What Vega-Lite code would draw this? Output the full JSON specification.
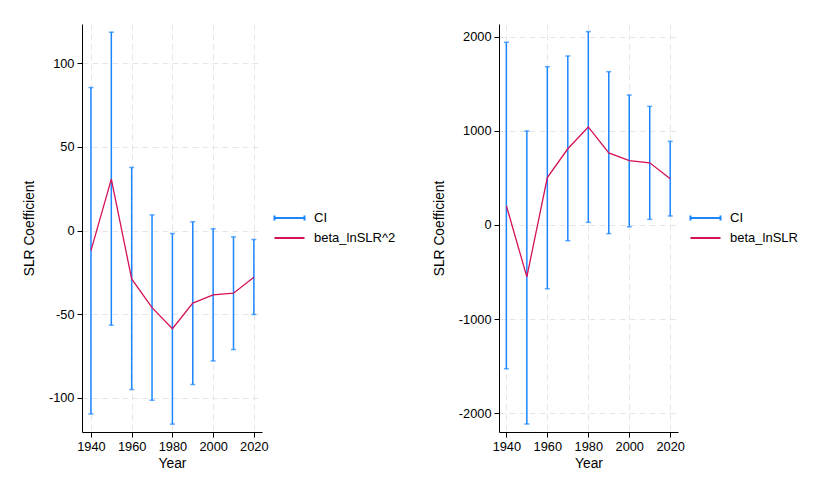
{
  "$schema": "https://vega.github.io/schema/vega-lite/v6.json",
  "background": "white",
  "padding": {"left": 22, "top": 24, "right": 5, "bottom": 5},
  "datasets": {
    "left": [
      {"year": 1940, "lo": -109.7, "hi": 85.5, "beta": -12.0},
      {"year": 1950, "lo": -56.6, "hi": 118.6, "beta": 30.7},
      {"year": 1960, "lo": -95.1, "hi": 37.7, "beta": -29.0},
      {"year": 1970, "lo": -101.5, "hi": 9.3, "beta": -46.1},
      {"year": 1980, "lo": -115.8, "hi": -1.8, "beta": -58.7},
      {"year": 1990, "lo": -92.1, "hi": 5.2, "beta": -43.4},
      {"year": 2000, "lo": -78.0, "hi": 1.0, "beta": -38.5},
      {"year": 2010, "lo": -71.2, "hi": -3.8, "beta": -37.5},
      {"year": 2020, "lo": -50.2, "hi": -5.4, "beta": -28.0}
    ],
    "right": [
      {"year": 1940, "lo": -1529, "hi": 1944, "beta": 205},
      {"year": 1950, "lo": -2117, "hi": 1000, "beta": -552},
      {"year": 1960, "lo": -678, "hi": 1684, "beta": 505},
      {"year": 1970, "lo": -167, "hi": 1798, "beta": 811},
      {"year": 1980, "lo": 28, "hi": 2057, "beta": 1043},
      {"year": 1990, "lo": -92, "hi": 1631, "beta": 767},
      {"year": 2000, "lo": -18, "hi": 1383, "beta": 684},
      {"year": 2010, "lo": 60, "hi": 1262, "beta": 662},
      {"year": 2020, "lo": 96, "hi": 890, "beta": 493}
    ]
  },
  "config": {
    "font": "Liberation Sans",
    "view": {"stroke": null},
    "axis": {
      "domainColor": "black",
      "tickColor": "black",
      "labelColor": "black",
      "titleColor": "black",
      "labelFontSize": 12.8,
      "titleFontSize": 13.8,
      "titleFontWeight": "normal",
      "gridColor": "#e6e6e6",
      "gridDash": [6, 4],
      "tickSize": 5,
      "labelPadding": 3
    },
    "legend": {
      "labelFontSize": 13,
      "labelColor": "black",
      "padding": 0,
      "symbolStrokeWidth": 2,
      "symbolSize": 225,
      "labelOffset": 16,
      "rowPadding": 4
    }
  },
  "resolve": {"scale": {"y": "independent", "color": "independent", "x": "independent"}},
  "spacing": 36,
  "hconcat": [
    {
      "width": 180,
      "height": 408,
      "data": {"name": "left"},
      "layer": [
        {
          "mark": {"type": "rule", "strokeWidth": 1.5},
          "encoding": {
            "x": {
              "field": "year", "type": "quantitative",
              "scale": {"domain": [1935.6, 2024], "nice": false, "zero": false},
              "axis": {
                "title": "Year",
                "values": [1940, 1950, 1960, 1970, 1980, 1990, 2000, 2010, 2020],
                "labelExpr": "datum.value % 20 == 0 ? toString(datum.value) : ''",
                "tickOpacity": {"condition": {"test": "datum.value % 20 != 0", "value": 0}, "value": 1},
                "labelFlush": false,
                "labelOverlap": false
              }
            },
            "y": {
              "field": "lo", "type": "quantitative",
              "scale": {"domain": [-120.5, 123.5], "nice": false},
              "axis": {
                "title": "SLR Coefficient",
                "values": [-100, -50, 0, 50, 100],
                "labelExpr": "toString(datum.value)",
                "titlePadding": 12
              }
            },
            "y2": {"field": "hi"},
            "color": {
              "datum": "CI", "type": "nominal",
              "scale": {"domain": ["CI", "beta_lnSLR^2"], "range": ["#1a85ff", "#d41159"]},
              "legend": {
                "title": null,
                "orient": "none",
                "legendX": 199,
                "legendY": 185.5,
                "encode": {
                  "symbols": {
                    "update": {
                      "shape": {"signal": "datum.value === 'CI' ? 'M-2,0H2M-2,-0.33V0.33M2,-0.33V0.33' : 'M-2,0H2'"}
                    }
                  }
                }
              }
            }
          }
        },
        {
          "mark": {"type": "tick", "orient": "horizontal", "size": 5, "thickness": 1.5, "color": "#1a85ff"},
          "encoding": {
            "x": {"field": "year", "type": "quantitative"},
            "y": {"field": "lo", "type": "quantitative"}
          }
        },
        {
          "mark": {"type": "tick", "orient": "horizontal", "size": 5, "thickness": 1.5, "color": "#1a85ff"},
          "encoding": {
            "x": {"field": "year", "type": "quantitative"},
            "y": {"field": "hi", "type": "quantitative"}
          }
        },
        {
          "mark": {"type": "line", "strokeWidth": 1.3},
          "encoding": {
            "x": {"field": "year", "type": "quantitative"},
            "y": {"field": "beta", "type": "quantitative"},
            "color": {"datum": "beta_lnSLR^2", "type": "nominal"}
          }
        }
      ]
    },
    {
      "width": 179,
      "height": 408,
      "data": {"name": "right"},
      "layer": [
        {
          "mark": {"type": "rule", "strokeWidth": 1.5},
          "encoding": {
            "x": {
              "field": "year", "type": "quantitative",
              "scale": {"domain": [1936.4, 2023.8], "nice": false, "zero": false},
              "axis": {
                "title": "Year",
                "values": [1940, 1950, 1960, 1970, 1980, 1990, 2000, 2010, 2020],
                "labelExpr": "datum.value % 20 == 0 ? toString(datum.value) : ''",
                "tickOpacity": {"condition": {"test": "datum.value % 20 != 0", "value": 0}, "value": 1},
                "labelFlush": false,
                "labelOverlap": false
              }
            },
            "y": {
              "field": "lo", "type": "quantitative",
              "scale": {"domain": [-2202, 2138], "nice": false},
              "axis": {
                "title": "SLR Coefficient",
                "values": [-2000, -1000, 0, 1000, 2000],
                "labelExpr": "toString(datum.value)",
                "titlePadding": 12
              }
            },
            "y2": {"field": "hi"},
            "color": {
              "datum": "CI", "type": "nominal",
              "scale": {"domain": ["CI", "beta_lnSLR"], "range": ["#1a85ff", "#d41159"]},
              "legend": {
                "title": null,
                "orient": "none",
                "legendX": 198,
                "legendY": 185.5,
                "encode": {
                  "symbols": {
                    "update": {
                      "shape": {"signal": "datum.value === 'CI' ? 'M-2,0H2M-2,-0.33V0.33M2,-0.33V0.33' : 'M-2,0H2'"}
                    }
                  }
                }
              }
            }
          }
        },
        {
          "mark": {"type": "tick", "orient": "horizontal", "size": 5, "thickness": 1.5, "color": "#1a85ff"},
          "encoding": {
            "x": {"field": "year", "type": "quantitative"},
            "y": {"field": "lo", "type": "quantitative"}
          }
        },
        {
          "mark": {"type": "tick", "orient": "horizontal", "size": 5, "thickness": 1.5, "color": "#1a85ff"},
          "encoding": {
            "x": {"field": "year", "type": "quantitative"},
            "y": {"field": "hi", "type": "quantitative"}
          }
        },
        {
          "mark": {"type": "line", "strokeWidth": 1.3},
          "encoding": {
            "x": {"field": "year", "type": "quantitative"},
            "y": {"field": "beta", "type": "quantitative"},
            "color": {"datum": "beta_lnSLR", "type": "nominal"}
          }
        }
      ]
    }
  ]
}
